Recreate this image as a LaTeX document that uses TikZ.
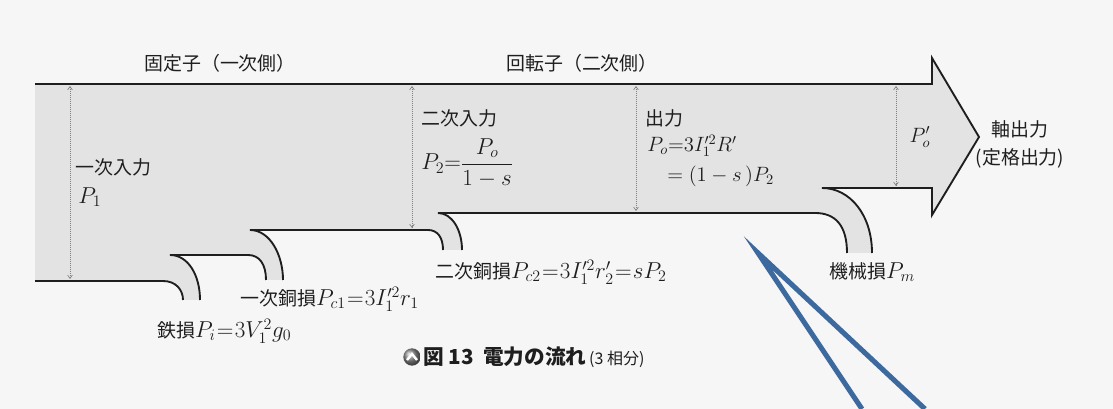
\documentclass[tikz,border=0pt]{standalone}
\usepackage{amsmath}
\usepackage{graphicx}
\usepackage{fontspec}
\newfontfamily\jp{Noto Sans CJK JP}
\usetikzlibrary{arrows.meta,shadings}
\definecolor{bg}{RGB}{246,246,246}
\definecolor{bandgray}{RGB}{227,227,227}
\definecolor{ink}{RGB}{30,30,30}
\definecolor{penblue}{RGB}{60,106,158}
\newcommand{\lgmath}[1]{{\fontsize{17.28}{19}\selectfont$#1$}}
\newcommand{\mdmath}[1]{\scalebox{1.08}{$#1$}}
\begin{document}
\begin{tikzpicture}[x=0.75pt,y=-0.75pt,
  band/.style={fill=bandgray},
  edge/.style={draw=ink,line width=1.4pt,line join=miter},
  dim/.style={draw=black!50,densely dotted,line width=0.5pt,
    {Straight Barb[length=2.5pt,width=3.5pt]}-{Straight Barb[length=2.5pt,width=3.5pt]}},
  lbl/.style={inner sep=0pt,text=ink,font=\fontsize{14.2}{21}\selectfont\jp},
  blueline/.style={draw=penblue,line width=3.8pt,line join=miter,miter limit=12}]
\useasboundingbox (0,0) rectangle (1113,409);
\fill[bg] (0,0) rectangle (1113,409);
% gray power flow
\fill[band] (35,84) -- (932,84) -- (932,58) -- (979,137) -- (932,215) -- (932,188) -- (822,188)
 .. controls (850,188) and (872,215) .. (872,253) -- (847,253)
 .. controls (847,225) and (835,213) .. (815,213) -- (438,213)
 .. controls (452,213) and (462,230) .. (462,250) -- (443,250)
 .. controls (443,238) and (438,230) .. (428,230) -- (250,230)
 .. controls (270,230) and (283,255) .. (283,280) -- (266,280)
 .. controls (266,265) and (260,255) .. (248,255) -- (170,255)
 .. controls (188,255) and (200,275) .. (200,300) -- (183,300)
 .. controls (183,290) and (176,281) .. (163,281) -- (35,281) -- cycle;
% outlines
\draw[edge] (872,253) .. controls (872,215) and (850,188) .. (822,188) -- (932,188) -- (932,215) -- (979,137) -- (932,58) -- (932,84) -- (35,84);
\draw[edge] (462,250) .. controls (462,230) and (452,213) .. (438,213) -- (815,213) .. controls (835,213) and (847,225) .. (847,253);
\draw[edge] (283,280) .. controls (283,255) and (270,230) .. (250,230) -- (428,230) .. controls (438,230) and (443,238) .. (443,250);
\draw[edge] (200,300) .. controls (200,275) and (188,255) .. (170,255) -- (248,255) .. controls (260,255) and (266,265) .. (266,280);
\draw[edge] (35,281) -- (163,281) .. controls (176,281) and (183,290) .. (183,300);
% dimension lines
\coordinate (p1t) at (70,86);  \coordinate (p1b) at (70,279);
\coordinate (p2t) at (412,86); \coordinate (p2b) at (412,228);
\coordinate (pot) at (636,86); \coordinate (pob) at (636,211);
\coordinate (ppt) at (896,86); \coordinate (ppb) at (896,186);
\draw[dim] (p1t) -- (p1b);
\draw[dim] (p2t) -- (p2b);
\draw[dim] (pot) -- (pob);
\draw[dim] (ppt) -- (ppb);
% headings
\node[lbl] (stator) at (220,63) {固定子（一次側）};
\node[lbl] (rotor) at (582,63) {回転子（二次側）};
% labels in the flow
\node[lbl,anchor=west] (in1) at (75,167) {一次入力};
\node[lbl,anchor=west] (p1) at (78,197) {\lgmath{P_1}};
\node[lbl,anchor=west] (in2) at (421,118) {二次入力};
\node[lbl,anchor=west] (p2) at (421,163) {\lgmath{P_2{=}\dfrac{P_o}{1-s}}};
\node[lbl,anchor=west] (out) at (645,118) {出力};
\node[lbl,anchor=west] (po) at (647,146) {\mdmath{P_o{=}3I_1'^2R'}};
\node[lbl,anchor=west] (po2) at (667,176) {\mdmath{={(}1-s\,{)}P_2}};
\node[lbl] (pop) at (920,137) {\mdmath{P_o'}};
\node[lbl,align=center] (shaft) at (1020,144) {軸出力\\(定格出力)};
% losses
\node[lbl,anchor=west] (iron) at (157,331) {鉄損\lgmath{P_i\mkern1mu{=}\mkern1mu3V_1^2g_0}};
\node[lbl,anchor=west] (cu1) at (240,299) {一次銅損\lgmath{P_{c1}\mkern1mu{=}\mkern1mu3I_1'^2r_1}};
\node[lbl,anchor=west] (cu2) at (435,272) {二次銅損\lgmath{P_{c2}\mkern1mu{=}\mkern1mu3I_1'^2r_2'\mkern1mu{=}\mkern1mu sP_2}};
\node[lbl,anchor=west] (mech) at (829,272) {機械損\lgmath{P_m}};
% caption
\node[circle,inner sep=0pt,minimum size=13pt,ball color=black!45] (icon) at (412,357) {};
\draw[white,line width=1.8pt] ([shift={(-5,3)}]icon.center) -- ([shift={(0,-3)}]icon.center) -- ([shift={(5,3)}]icon.center);
\node[inner sep=0pt,anchor=west,text=ink,font=\fontsize{15.5}{18}\selectfont\jp] (cap) at (423,357)
  {\bfseries 図 13\hspace{7pt}電力の流れ\mdseries\hspace{2pt}{\fontsize{12}{14}\selectfont(3 相分)}};
% blue pen strokes
\coordinate (bj) at (758,253);
\coordinate (ba) at (862,409);
\coordinate (bb) at (925,409);
\draw[blueline] (ba) -- (bj) -- (bb);
\end{tikzpicture}
\end{document}
